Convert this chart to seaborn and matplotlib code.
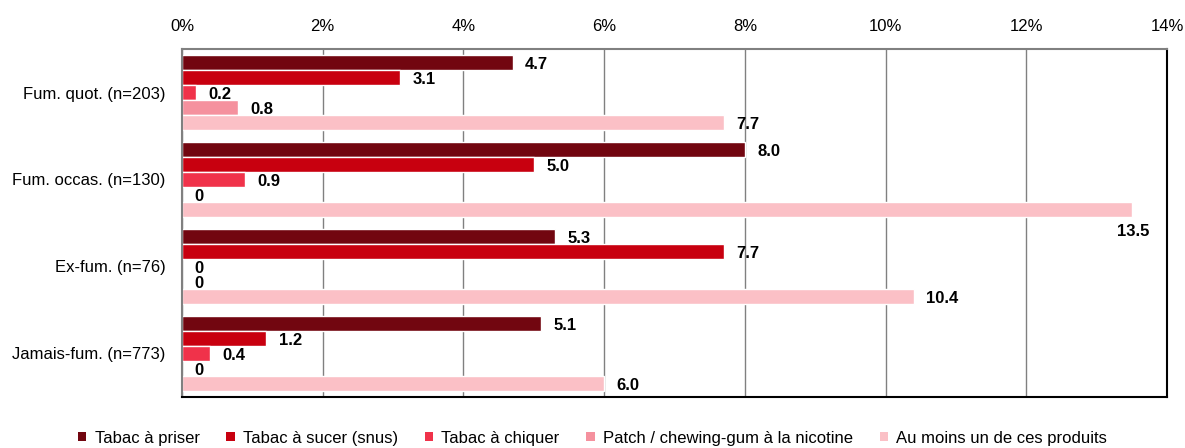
import pandas as pd
import matplotlib.pyplot as plt
import seaborn as sns
from matplotlib import font_manager
from matplotlib.ticker import FuncFormatter
from matplotlib.patches import Patch

groups = ["Fum. quot. (n=203)", "Fum. occas. (n=130)", "Ex-fum. (n=76)", "Jamais-fum. (n=773)"]
produits = ["Tabac à priser", "Tabac à sucer (snus)", "Tabac à chiquer",
            "Patch / chewing-gum à la nicotine", "Au moins un de ces produits"]
priser = [4.7, 8.0, 5.3, 5.1]
snus = [3.1, 5.0, 7.7, 1.2]
chiquer = [0.2, 0.9, 0.0, 0.4]
patch = [0.8, 0.0, 0.0, 0.0]
au_moins = [7.7, 13.5, 10.4, 6.0]
couleurs = ["#720610", "#C8000F", "#F0324A", "#F5919E", "#FBC0C6"]

rows = []
for prod, vals in zip(produits, [priser, snus, chiquer, patch, au_moins]):
    for g, v in zip(groups, vals):
        rows.append({"Groupe": g, "Produit": prod, "Valeur": v})
df = pd.DataFrame(rows)

sns.set_style("white")
# Arial Narrow-like si dispo, sinon Liberation Sans
noms = {f.name for f in font_manager.fontManager.ttflist}
etroite = [n for n in ["Liberation Sans Narrow", "Arial Narrow"] if n in noms]
if etroite:
    plt.rcParams["font.family"] = [etroite[0], "Liberation Sans", "DejaVu Sans"]
    fs = 13
else:
    plt.rcParams["font.family"] = ["Liberation Sans", "DejaVu Sans"]
    fs = 12
plt.rcParams["text.color"] = "black"
plt.rcParams["xtick.color"] = "black"
plt.rcParams["ytick.color"] = "black"

fig, ax = plt.subplots(figsize=(11.85, 4.48), dpi=100)
fig.subplots_adjust(left=0.1536, right=0.9848, top=0.8906, bottom=0.114)

sns.barplot(data=df, y="Groupe", x="Valeur", hue="Produit", order=groups, hue_order=produits,
            palette=couleurs, saturation=1, orient="h", width=0.86, edgecolor="white",
            linewidth=1, legend=False, ax=ax)

ax.set_xlim(0, 14)
ax.set_xticks(range(0, 15, 2))
ax.xaxis.set_major_formatter(FuncFormatter(lambda x, p: f"{int(x)}%"))
ax.xaxis.tick_top()
ax.tick_params(axis="x", length=0, pad=11, labelsize=fs)
ax.tick_params(axis="y", length=0, pad=12, labelsize=fs)
ax.set_xlabel("")
ax.set_ylabel("")
ax.grid(axis="x", color="#808080", linewidth=1)
ax.set_axisbelow(True)
for s in ["top", "left"]:
    ax.spines[s].set_color("#808080")
    ax.spines[s].set_linewidth(1.5)
for s in ["right", "bottom"]:
    ax.spines[s].set_color("#000000")
    ax.spines[s].set_linewidth(1.5)

for cont in ax.containers:
    for bar in cont:
        v = bar.get_width()
        yc = bar.get_y() + bar.get_height() / 2
        lab = "0" if v == 0 else f"{v:.1f}"
        if v > 13:
            ax.annotate(lab, (v, yc), xytext=(-11, -16), textcoords="offset points",
                        ha="left", va="center", fontsize=fs, fontweight="bold")
        else:
            ax.annotate(lab, (v, yc), xytext=(9, -1.5), textcoords="offset points",
                        ha="left", va="center", fontsize=fs, fontweight="bold")

handles = [Patch(facecolor=c, edgecolor="none") for c in couleurs]
fig.legend(handles, produits, loc="center", ncol=5, frameon=False, fontsize=fs,
           bbox_to_anchor=(0.5, 10 / 448), handlelength=0.5, handleheight=0.5,
           handletextpad=0.5, columnspacing=1.6)

plt.savefig("out.png", dpi=100)
